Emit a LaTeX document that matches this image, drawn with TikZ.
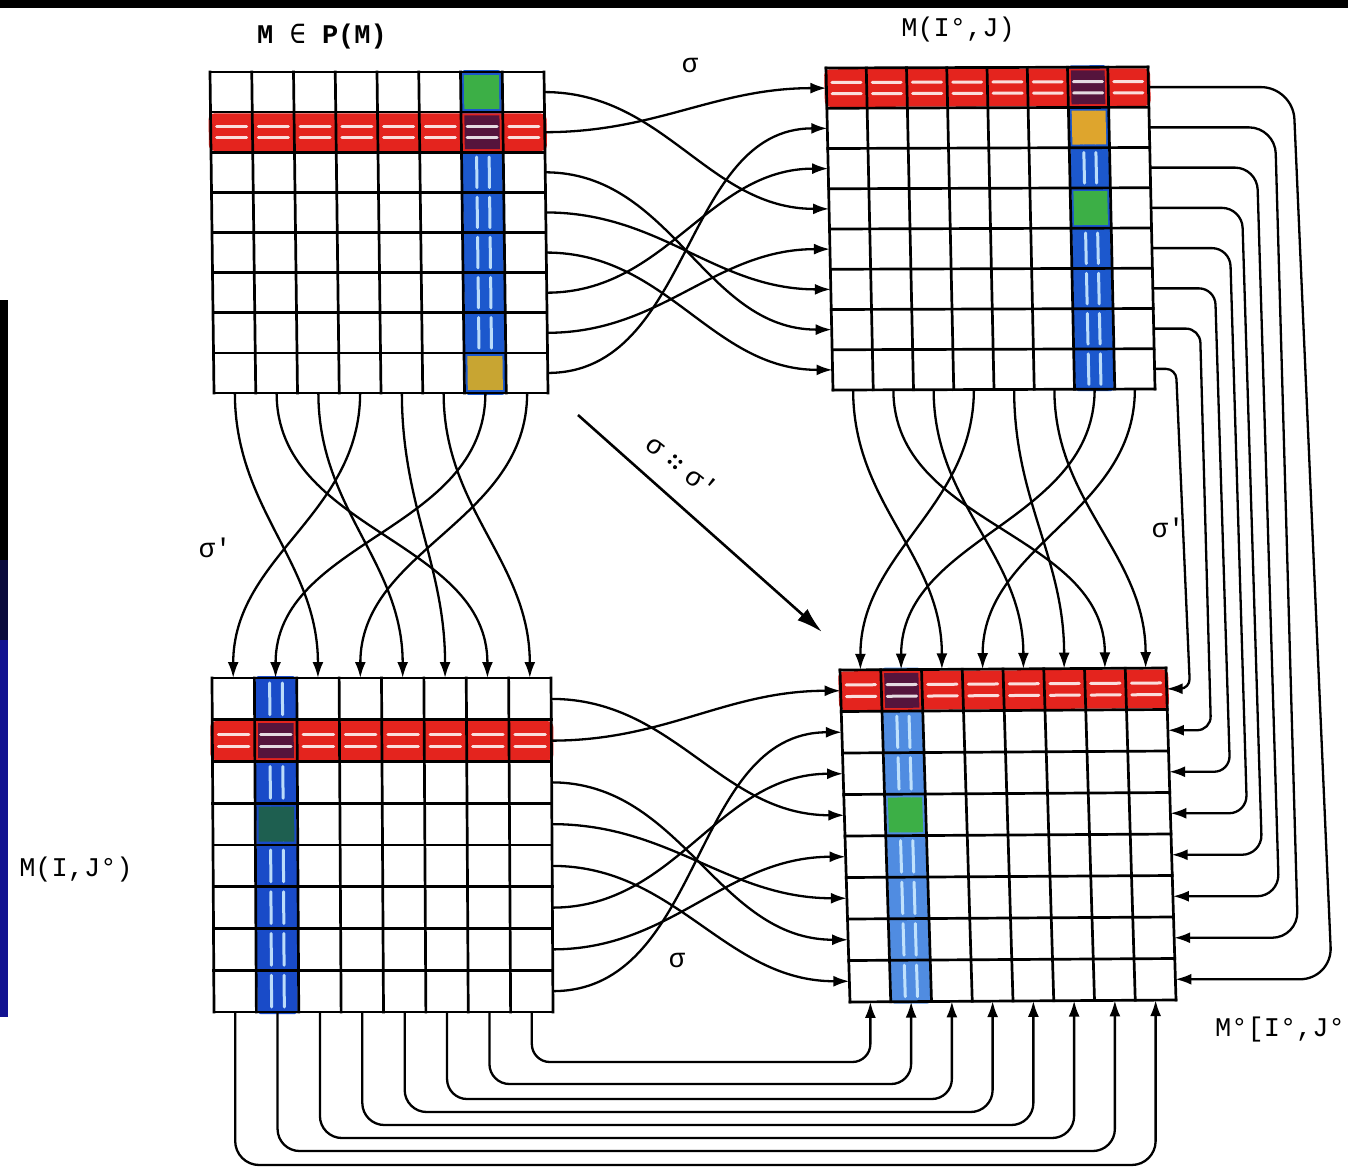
\documentclass[tikz,border=0pt]{standalone}
\usepackage{fontspec}
\setmonofont{Liberation Mono}
\newfontfamily\djm{DejaVu Sans Mono}
\usetikzlibrary{calc,arrows.meta}
\definecolor{mred}{RGB}{228,36,30}
\definecolor{mblue}{RGB}{28,88,205}
\definecolor{mblueC}{RGB}{25,75,200}
\definecolor{mblueD}{RGB}{80,140,225}
\definecolor{mlight}{RGB}{205,235,255}
\definecolor{mgreen}{RGB}{60,175,70}
\definecolor{morange}{RGB}{222,165,45}
\definecolor{myellow}{RGB}{200,165,50}
\definecolor{mdkgreen}{RGB}{30,95,80}
\definecolor{mdark}{RGB}{85,20,60}
\definecolor{slideblue}{RGB}{18,18,145}
\definecolor{slidenavy}{RGB}{10,10,60}

\newcommand\MtxPt[3]{($(#1-o)+{#2}*(#1-u)+{#3}*(#1-v)$)}
\newcommand\cellfill[4]{%
  \fill[#4] \MtxPt{#1}{(#2-1)/8+0.01}{(#3-1)/8+0.01} -- \MtxPt{#1}{#2/8-0.01}{(#3-1)/8+0.01} -- \MtxPt{#1}{#2/8-0.01}{#3/8-0.01} -- \MtxPt{#1}{(#2-1)/8+0.01}{#3/8-0.01} -- cycle;}
\newcommand\drawmtx[4]{%
  \fill[#4,rounded corners=3pt] \MtxPt{#1}{(#3-1)/8+0.003}{-0.006} -- \MtxPt{#1}{#3/8-0.003}{-0.006} -- \MtxPt{#1}{#3/8-0.003}{1.006} -- \MtxPt{#1}{(#3-1)/8+0.003}{1.006} -- cycle;
  \foreach \k in {1,...,8}{\foreach \f in {0.36,0.66}{
    \draw[bstreak] \MtxPt{#1}{(#3-1+\f)/8}{(\k-1+0.12)/8} -- \MtxPt{#1}{(#3-1+\f)/8}{(\k-0.12)/8};}}
  \fill[mred,rounded corners=6pt] \MtxPt{#1}{-0.006}{(#2-1)/8+0.004} -- \MtxPt{#1}{1.006}{(#2-1)/8+0.004} -- \MtxPt{#1}{1.006}{#2/8-0.004} -- \MtxPt{#1}{-0.006}{#2/8-0.004} -- cycle;
  \cellfill{#1}{#3}{#2}{mdark}
  \foreach \k in {1,...,8}{\foreach \f in {0.36,0.64}{
    \draw[rstreak] \MtxPt{#1}{(\k-1+0.14)/8}{(#2-1+\f)/8} -- \MtxPt{#1}{(\k-0.14)/8}{(#2-1+\f)/8};}}
}
\newcommand\gridmtx[1]{%
  \foreach \k in {0,...,8}{
    \draw[gridline] \MtxPt{#1}{\k/8}{0} -- \MtxPt{#1}{\k/8}{1};
    \draw[gridline] \MtxPt{#1}{0}{\k/8} -- \MtxPt{#1}{1}{\k/8};}
  \foreach \i in {1,...,8}{
    \path \MtxPt{#1}{1}{(\i-0.5)/8} coordinate (#1-R\i);
    \path \MtxPt{#1}{0}{(\i-0.5)/8} coordinate (#1-L\i);
    \path \MtxPt{#1}{(\i-0.5)/8}{0} coordinate (#1-T\i);
    \path \MtxPt{#1}{(\i-0.5)/8}{1} coordinate (#1-B\i);}
}
\newcommand\fourdots{\tikz[baseline=-0.6ex]{\foreach \a in {38.7,128.7,218.7,308.7}{\fill (\a:0.2em) circle[radius=0.075em];}}}

\tikzset{
  gridline/.style={line width=2.7pt, black, line cap=rect},
  bstreak/.style={line width=3pt, mlight, opacity=0.9, line cap=round},
  rstreak/.style={line width=3pt, white, opacity=0.85, line cap=round},
  conn/.style={line width=2.3pt, black, -{Latex[length=16pt,width=11pt]}},
  lbl/.style={font=\ttfamily\fontsize{27}{30}\selectfont, inner sep=1pt},
}

\begin{document}
\begin{tikzpicture}[x=1pt,y=-1pt]
\useasboundingbox (0,0) rectangle (1348,1172);
\fill[white] (0,0) rectangle (1348,1172);
% slide background remnants
\fill[black] (0,0) rectangle (1348,8);
\fill[black] (0,300) rectangle (8,600);
\fill[slidenavy] (0,560) rectangle (8,660);
\fill[slideblue] (0,640) rectangle (8,1017);

% matrix frames
\coordinate (A-o) at (210,72);  \coordinate (A-u) at (334,0);  \coordinate (A-v) at (4,321);
\coordinate (B-o) at (826,68);  \coordinate (B-u) at (322,-1); \coordinate (B-v) at (7,322);
\coordinate (C-o) at (212,678); \coordinate (C-u) at (339,0);  \coordinate (C-v) at (2,334);
\coordinate (D-o) at (840,670); \coordinate (D-u) at (326,-2); \coordinate (D-v) at (10,332);

% colouring
\drawmtx{A}{2}{7}{mblue}
\cellfill{A}{7}{1}{mgreen}
\cellfill{A}{7}{8}{myellow}
\drawmtx{B}{1}{7}{mblue}
\cellfill{B}{7}{2}{morange}
\cellfill{B}{7}{4}{mgreen}
\drawmtx{C}{2}{2}{mblueC}
\cellfill{C}{2}{4}{mdkgreen}
\drawmtx{D}{1}{2}{mblueD}
\cellfill{D}{2}{4}{mgreen}

% grids and ports
\gridmtx{A}
\gridmtx{B}
\gridmtx{C}
\gridmtx{D}

% sigma: rows
\foreach \s/\t in {1/4,2/1,3/7,4/6,5/8,6/3,7/5,8/2}{
  \draw[conn] (A-R\s) to[out=0,in=180] (B-L\t);
  \draw[conn] (C-R\s) to[out=0,in=180] (D-L\t);
}
% sigma': columns
\foreach \s/\t in {1/3,2/7,3/5,4/1,5/6,6/8,7/2,8/4}{
  \draw[conn] (A-B\s) to[out=-90,in=90] (C-T\t);
  \draw[conn] (B-B\s) to[out=-90,in=90] (D-T\t);
}
% right side: B rows to D rows
\foreach \i/\xt/\xb/\r in {1/1293/1332/32,2/1275/1298/26,3/1257/1279/22,4/1242/1262/20,5/1230/1247/18,6/1215/1230/16,7/1200/1211/14,8/1176/1190/10}{
  \pgfmathtruncatemacro\jj{9-\i}
  \coordinate (VT\i) at (\xt,0);
  \coordinate (VB\i) at (\xb,0);
  \draw[conn,rounded corners=\r pt] (B-R\i) -- (B-R\i -| VT\i) -- (D-R\jj -| VB\i) -- (D-R\jj);
}
% bottom: C columns to D columns
\foreach \j/\yy/\r in {1/1165/24,2/1151/22,3/1138/22,4/1125/22,5/1112/22,6/1099/20,7/1084/20,8/1062/18}{
  \pgfmathtruncatemacro\kk{9-\j}
  \coordinate (H\j) at (0,\yy);
  \draw[conn,rounded corners=\r pt] (C-B\j) -- (C-B\j |- H\j) -- (D-B\kk |- H\j) -- (D-B\kk);
}
% diagonal
\coordinate (dg-s) at (578,415);
\coordinate (dg-e) at (822,632);
\draw[line width=2.6pt,-{Latex[length=26pt,width=15pt]}] (dg-s) -- (dg-e);

% labels
\node[lbl,font=\ttfamily\bfseries\fontsize{27}{30}\selectfont] (lA) at (322,37) {M {\djm\mdseries ∈} P(M)};
\node[lbl] (lB) at (958,30) {M(I°,J)};
\node[lbl] (lC) at (76,870) {M(I,J°)};
\node[lbl,anchor=west] (lD) at (1214,1030) {M°[I°,J°};
\node[lbl] (s1) at (690,65) {σ};
\node[lbl] (s2) at (215,548) {σ'};
\node[lbl] (s3) at (1168,528) {σ'};
\node[lbl] (s4) at (677,960) {σ};
\node[lbl,rotate=-38.7] (s5) at (682,466) {σ\hspace{0.4em}\fourdots\hspace{0.4em}σ'};
\end{tikzpicture}
\end{document}
